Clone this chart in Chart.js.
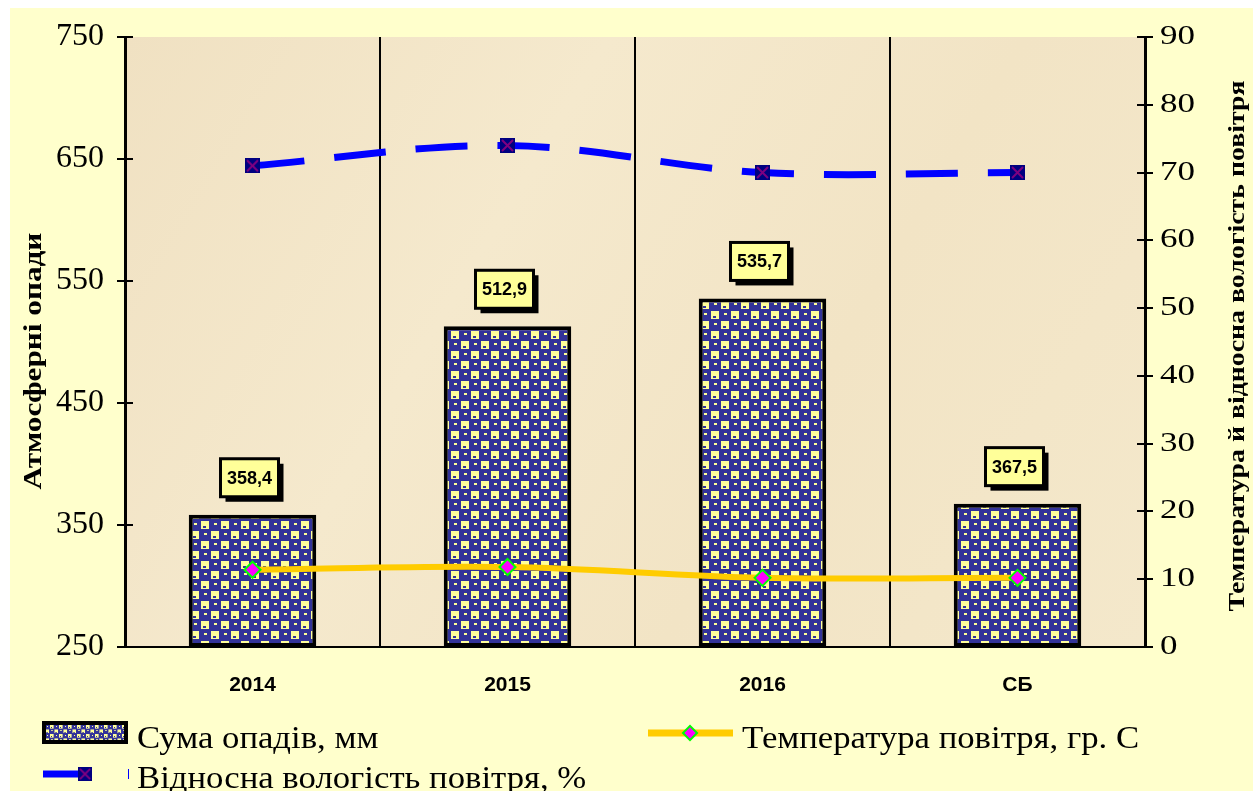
<!DOCTYPE html>
<html>
<head>
<meta charset="utf-8">
<script src="https://cdn.jsdelivr.net/npm/chart.js@4/dist/chart.umd.min.js"></script>
<style>
  html, body { margin: 0; padding: 0; background: #ffffff; }
  canvas { display: block; }
</style>
</head>
<body>
<canvas id="chart" width="1253" height="791"></canvas>
<script>
// Категорії та значення
const categories = ['2014', '2015', '2016', 'СБ'];
const precipitation = [358.4, 512.9, 535.7, 367.5];   // Сума опадів, мм
const temperature = [11.4, 11.8, 10.2, 10.2];          // Температура повітря, гр. С
const humidity = [71, 74, 70, 70];                     // Відносна вологість повітря, %
const leftTicks = [250, 350, 450, 550, 650, 750];
const rightTicks = [0, 10, 20, 30, 40, 50, 60, 70, 80, 90];

const seriesNames = ['Сума опадів, мм', 'Температура повітря, гр. С', 'Відносна вологість повітря, %'];
const leftTitle = 'Атмосферні опади';
const rightTitle = 'Температура й відносна вологість повітря';

const NAVY = '#333399';
const PALE = '#FFFF99';
const SERIF = '"Liberation Serif", "Times New Roman", serif';
const SANS = '"Liberation Sans", Arial, sans-serif';

// Checked weave tile used to fill the precipitation bars
function makeWeaveTile() {
  const c = document.createElement('canvas');
  c.width = 20; c.height = 20;
  const g = c.getContext('2d');
  g.fillStyle = NAVY; g.fillRect(0, 0, 20, 20);
  g.fillStyle = PALE;
  g.fillRect(1, 1, 8, 8);
  g.fillRect(11, 11, 8, 8);
  g.fillRect(14, 3, 3, 2);
  g.fillRect(4, 13, 3, 2);
  g.fillStyle = NAVY;
  g.fillRect(3, 6, 3, 2);
  g.fillRect(13, 16, 3, 2);
  return c;
}
const weaveTile = makeWeaveTile();
const ctx0 = document.getElementById('chart').getContext('2d');
const weave = ctx0.createPattern(weaveTile, 'repeat');
const weaveSmall = ctx0.createPattern(weaveTile, 'repeat');
weaveSmall.setTransform(new DOMMatrix().scale(0.45));

// Square marker with a cross for the humidity series
function makeCrossMarker() {
  const c = document.createElement('canvas');
  c.width = 15; c.height = 15;
  const g = c.getContext('2d');
  g.fillStyle = '#000080'; g.fillRect(0, 0, 15, 15);
  g.strokeStyle = '#800080'; g.lineWidth = 2;
  g.beginPath();
  g.moveTo(2, 2); g.lineTo(13, 13);
  g.moveTo(13, 2); g.lineTo(2, 13);
  g.stroke();
  return c;
}
const crossMarker = makeCrossMarker();

// Text with a stretch factor sx applied along the text direction
function stretchedText(ctx, text, x, y, font, sx, align, baseline, angle) {
  ctx.save();
  ctx.translate(x, y);
  if (angle) ctx.rotate(angle);
  ctx.scale(sx, 1);
  ctx.font = font;
  ctx.textAlign = align;
  ctx.textBaseline = baseline;
  ctx.fillStyle = '#000';
  ctx.fillText(text, 0, 0);
  ctx.restore();
}

const backgroundPlugin = {
  id: 'panels',
  beforeDraw(chart) {
    const { ctx, chartArea: a } = chart;
    ctx.save();
    ctx.fillStyle = '#ffffff';
    ctx.fillRect(0, 0, chart.width, chart.height);
    ctx.fillStyle = '#FFFFCC';
    ctx.fillRect(10, 8, chart.width - 10, chart.height - 8);
    const grd = ctx.createLinearGradient(a.left, a.top, a.right, a.bottom);
    grd.addColorStop(0, '#F0E1C2');
    grd.addColorStop(0.35, '#F5E9CD');
    grd.addColorStop(0.65, '#F2E4C5');
    grd.addColorStop(1, '#F4E8CB');
    ctx.fillStyle = grd;
    ctx.fillRect(a.left, a.top, a.right - a.left, a.bottom - a.top);
    ctx.restore();
  }
};

// Value axes: crossing tick marks, tick labels and rotated titles
const axesTextPlugin = {
  id: 'axesText',
  afterDraw(chart) {
    const { ctx } = chart;
    const y = chart.scales.y, y2 = chart.scales.y2;
    ctx.save();
    ctx.strokeStyle = '#000';
    ctx.lineWidth = 2;
    leftTicks.forEach(v => {
      const py = Math.round(y.getPixelForValue(v));
      ctx.beginPath(); ctx.moveTo(y.right - 8, py); ctx.lineTo(y.right + 8, py); ctx.stroke();
      stretchedText(ctx, String(v), 104, py, '32px ' + SERIF, 1, 'right', 'middle');
    });
    rightTicks.forEach(v => {
      const py = Math.round(y2.getPixelForValue(v));
      ctx.beginPath(); ctx.moveTo(y2.left - 8, py); ctx.lineTo(y2.left + 8, py); ctx.stroke();
      stretchedText(ctx, String(v), 1160, py, '28px ' + SERIF, 1.25, 'left', 'middle');
    });
    stretchedText(ctx, leftTitle, 35, 361, 'bold 25px ' + SERIF, 1.25, 'center', 'middle', -Math.PI / 2);
    stretchedText(ctx, rightTitle, 1238, 346, 'bold 23px ' + SERIF, 1.21, 'center', 'middle', -Math.PI / 2);
    ctx.restore();
  }
};

// Value boxes above the bars
const valueBoxPlugin = {
  id: 'valueBoxes',
  afterDatasetsDraw(chart) {
    const { ctx } = chart;
    const meta = chart.getDatasetMeta(0);
    ctx.save();
    meta.data.forEach((bar, i) => {
      const v = chart.data.datasets[0].data[i];
      const text = v.toFixed(1).replace('.', ',');
      const w = 58, h = 38;
      const cx = bar.x - 3;
      const cy = bar.y - 37;
      const x = cx - w / 2, yTop = cy - h / 2;
      ctx.fillStyle = '#000';
      ctx.fillRect(x + 5, yTop + 5, w, h);
      ctx.fillStyle = PALE;
      ctx.fillRect(x, yTop, w, h);
      ctx.lineWidth = 3;
      ctx.strokeStyle = '#000';
      ctx.strokeRect(x, yTop, w, h);
      stretchedText(ctx, text, cx, cy + 1, 'bold 18px ' + SANS, 1, 'center', 'middle');
    });
    ctx.restore();
  }
};

// Legend in two rows below the plot
const legendPlugin = {
  id: 'customLegend',
  afterDraw(chart) {
    const { ctx } = chart;
    const ds = chart.data.datasets;
    const font = '31px ' + SERIF;
    ctx.save();

    // bars
    ctx.fillStyle = weaveSmall;
    ctx.fillRect(44, 723, 82, 19);
    ctx.lineWidth = 4; ctx.strokeStyle = '#000';
    ctx.strokeRect(44, 723, 82, 19);
    stretchedText(ctx, ds[0].label, 137, 748, font, 1.12, 'left', 'alphabetic');

    // temperature
    ctx.strokeStyle = '#FFCC00'; ctx.lineWidth = 7;
    ctx.beginPath(); ctx.moveTo(648, 733); ctx.lineTo(733, 733); ctx.stroke();
    ctx.save();
    ctx.translate(690, 733); ctx.rotate(Math.PI / 4);
    ctx.fillStyle = '#FF00FF'; ctx.fillRect(-5, -5, 10, 10);
    ctx.strokeStyle = '#00FF00'; ctx.lineWidth = 2; ctx.strokeRect(-5, -5, 10, 10);
    ctx.restore();
    stretchedText(ctx, ds[1].label, 742, 748, font, 1.12, 'left', 'alphabetic');

    // humidity
    ctx.strokeStyle = '#0000FF'; ctx.lineWidth = 7;
    ctx.beginPath(); ctx.moveTo(43, 774); ctx.lineTo(80, 774); ctx.stroke();
    ctx.drawImage(crossMarker, 78, 767, 14, 14);
    ctx.lineWidth = 1;
    ctx.beginPath(); ctx.moveTo(128.5, 769); ctx.lineTo(128.5, 779); ctx.stroke();
    stretchedText(ctx, ds[2].label, 137, 788, font, 1.12, 'left', 'alphabetic');
    ctx.restore();
  }
};

new Chart(document.getElementById('chart'), {
  type: 'bar',
  data: {
    labels: categories,
    datasets: [
      {
        type: 'bar',
        label: seriesNames[0],
        data: precipitation,
        yAxisID: 'y',
        base: leftTicks[0],
        backgroundColor: weave,
        borderColor: '#000',
        borderWidth: 4,
        borderSkipped: false,
        categoryPercentage: 1,
        barPercentage: 0.5,
        order: 3
      },
      {
        type: 'line',
        label: seriesNames[1],
        data: temperature,
        yAxisID: 'y2',
        borderColor: '#FFCC00',
        borderWidth: 6,
        tension: 0.35,
        pointStyle: 'rectRot',
        pointRadius: 8,
        pointBackgroundColor: '#FF00FF',
        pointBorderColor: '#00FF00',
        pointBorderWidth: 2,
        order: 2
      },
      {
        type: 'line',
        label: seriesNames[2],
        data: humidity,
        yAxisID: 'y2',
        borderColor: '#0000FF',
        borderWidth: 7,
        borderDash: [52, 30],
        borderCapStyle: 'butt',
        tension: 0.35,
        pointStyle: crossMarker,
        pointRadius: 8,
        order: 1
      }
    ]
  },
  options: {
    responsive: false,
    devicePixelRatio: 1,
    animation: false,
    layout: { padding: { left: 10, right: 0, top: 37, bottom: 84 } },
    plugins: {
      legend: { display: false },
      tooltip: { enabled: false }
    },
    scales: {
      x: {
        offset: true,
        grid: { offset: true, color: '#000', lineWidth: 2, drawTicks: false },
        border: { color: '#000', width: 2 },
        ticks: {
          color: '#000',
          padding: 26,
          font: { family: SANS, size: 21, weight: 'bold' }
        },
        afterFit(s) { s.height = 60; }
      },
      y: {
        position: 'left',
        min: leftTicks[0],
        max: leftTicks[leftTicks.length - 1],
        afterBuildTicks(s) { s.ticks = leftTicks.map(v => ({ value: v })); },
        grid: { display: false },
        border: { color: '#000', width: 3 },
        ticks: { display: false },
        afterFit(s) { s.width = 115; }
      },
      y2: {
        position: 'right',
        min: rightTicks[0],
        max: rightTicks[rightTicks.length - 1],
        afterBuildTicks(s) { s.ticks = rightTicks.map(v => ({ value: v })); },
        grid: { display: false },
        border: { color: '#000', width: 3 },
        ticks: { display: false },
        afterFit(s) { s.width = 108; }
      }
    }
  },
  plugins: [backgroundPlugin, valueBoxPlugin, axesTextPlugin, legendPlugin]
});
</script>
</body>
</html>
